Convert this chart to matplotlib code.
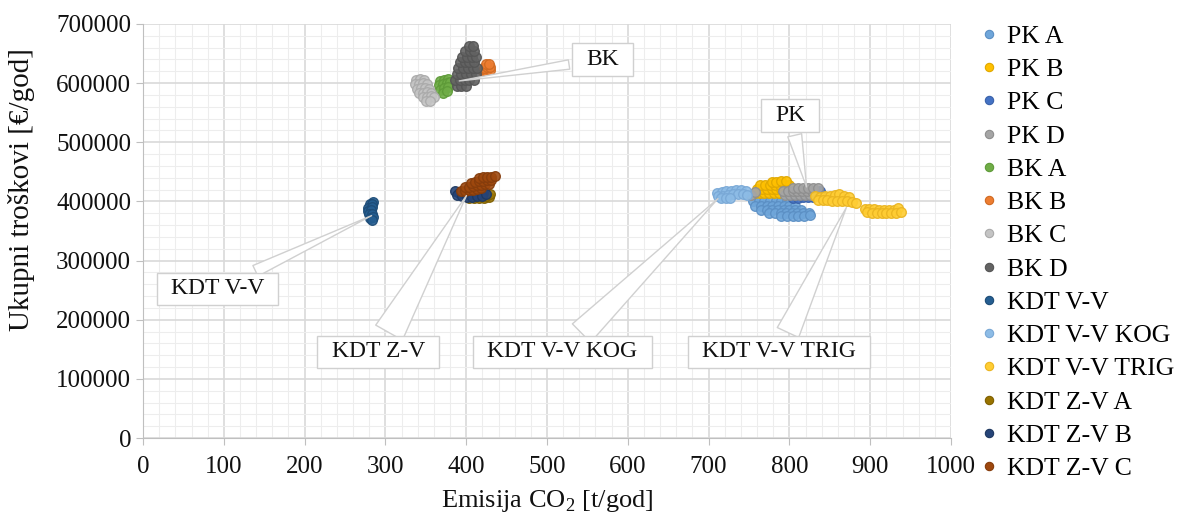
import matplotlib.pyplot as plt
from matplotlib.lines import Line2D
from matplotlib.path import Path
from matplotlib.ticker import MultipleLocator, StrMethodFormatter

plt.rcParams["font.family"] = ["Liberation Serif", "DejaVu Serif"]
plt.rcParams["mathtext.fontset"] = "custom"
plt.rcParams["mathtext.rm"] = "Liberation Serif"

# --- data (emission t/god, cost EUR/god) ---
pk_a_x = [755, 762, 769, 776, 783, 790, 797,
          758, 765, 772, 779, 786, 793, 800, 807,
          765, 772, 779, 786, 793, 800, 807, 814,
          775, 782, 789, 796, 803, 810, 817, 824,
          790, 797, 804, 811, 818, 826]
pk_a_y = [400000, 400000, 400000, 400000, 400000, 400000, 400000,
          393000, 393000, 393000, 393000, 393000, 393000, 393000, 393000,
          386000, 386000, 386000, 386000, 386000, 386000, 386000, 386000,
          380000, 380000, 380000, 380000, 380000, 380000, 380000, 380000,
          375000, 375000, 375000, 375000, 376000, 377000]

pk_b_x = [757, 763, 769, 775, 781, 787,
          760, 766, 772, 778, 784, 790, 796,
          764, 770, 776, 782, 788, 794, 800,
          778, 784, 790, 796]
pk_b_y = [415000, 415000, 415000, 415000, 415000, 415000,
          421000, 421000, 421000, 421000, 421000, 421000, 421000,
          427000, 427000, 427000, 427000, 427000, 427000, 427000,
          433000, 433000, 434000, 435000]

pk_c_x = [805, 811, 817, 823, 829, 835, 808, 814, 820, 826, 832, 838]
pk_c_y = [406000, 406000, 407000, 407000, 408000, 409000,
          413000, 414000, 415000, 416000, 417000, 418000]

pk_d_x = [752, 758, 795, 801, 807, 813, 819, 825,
          792, 798, 804, 810, 816, 822, 828,
          805, 811, 817, 823, 829, 835]
pk_d_y = [411000, 416000, 411000, 411000, 411000, 411000, 411000, 411000,
          417000, 417000, 417000, 417000, 417000, 417000, 417000,
          423000, 423000, 423000, 423000, 423000, 423000]

bk_a_x = [368, 373, 378, 366, 371, 376, 380, 368, 373, 378, 371, 376]
bk_a_y = [603000, 605000, 607000, 596000, 598000, 600000, 602000,
          589000, 591000, 593000, 584000, 586000]

bk_b_x = [421, 425, 429, 422, 426, 430, 424, 428]
bk_b_y = [620000, 621000, 622000, 626000, 627000, 628000, 632000, 633000]

bk_c_x = [338, 343, 348, 336, 341, 346, 351, 339, 344, 349, 354,
          342, 347, 352, 357, 346, 351, 356, 360, 350, 355]
bk_c_y = [606000, 607000, 605000, 598000, 599000, 600000, 598000,
          590000, 591000, 592000, 590000, 583000, 584000, 585000, 583000,
          576000, 577000, 578000, 576000, 569000, 570000]

bk_d_x = [388, 394, 400,
          386, 392, 398, 404, 410,
          388, 394, 400, 406, 412,
          390, 396, 402, 408, 413,
          392, 398, 404, 410,
          395, 401, 407, 412,
          399, 405, 410,
          404, 409]
bk_d_y = [595000, 595000, 595000,
          605000, 605000, 605000, 605000, 605000,
          615000, 615000, 615000, 615000, 615000,
          625000, 625000, 625000, 625000, 625000,
          635000, 635000, 635000, 635000,
          645000, 645000, 645000, 645000,
          655000, 655000, 655000,
          663000, 663000]

kdt_vv_x = [285, 281, 284, 279, 283, 278, 282, 280, 284, 281, 285, 283]
kdt_vv_y = [399000, 395000, 396000, 389000, 390000, 384000,
            385000, 378000, 379000, 372000, 373000, 368000]

kdt_kog_x = [710, 716, 722, 728, 734, 740, 746,
             712, 718, 724, 730, 736, 742, 748,
             715, 721, 727]
kdt_kog_y = [415000, 416000, 417000, 418000, 419000, 419000, 418000,
             409000, 410000, 411000, 412000, 412000, 412000, 411000,
             405000, 406000, 406000]

kdt_trig_x = [832, 838, 844, 850, 856, 862, 868, 874,
              835, 841, 847, 853, 859, 865, 871, 877, 883,
              893, 899, 905, 911, 917, 923, 929, 935,
              896, 902, 908, 914, 920, 926, 932, 938]
kdt_trig_y = [409000, 408000, 409000, 410000, 411000, 412000, 410000, 408000,
              403000, 402000, 402000, 401000, 401000, 400000, 400000, 399000, 398000,
              388000, 387000, 387000, 386000, 386000, 385000, 386000, 389000,
              382000, 381000, 381000, 381000, 380000, 380000, 380000, 382000]

kdt_zva_x = [404, 410, 416, 422, 428, 407, 413, 419, 425, 430]
kdt_zva_y = [406000, 405000, 405000, 406000, 408000,
             410000, 409000, 409000, 410000, 412000]

kdt_zvb_x = [386, 391, 397, 403, 409, 415, 421, 389, 395, 401, 407, 413, 419, 425]
kdt_zvb_y = [418000, 415000, 413000, 412000, 412000, 413000, 414000,
             411000, 409000, 408000, 408000, 409000, 410000, 412000]

kdt_zvc_x = [393, 398, 403, 408, 413, 418, 398, 403, 408, 413, 418, 423, 428,
             406, 411, 416, 421, 426, 431, 416, 421, 426, 431, 436]
kdt_zvc_y = [417000, 418000, 419000, 420000, 421000, 422000,
             424000, 425000, 426000, 427000, 428000, 429000, 430000,
             432000, 433000, 434000, 435000, 436000, 437000,
             440000, 441000, 441000, 442000, 443000]

series_names = ["PK A", "PK B", "PK C", "PK D", "BK A", "BK B", "BK C", "BK D",
                "KDT V-V", "KDT V-V KOG", "KDT V-V TRIG",
                "KDT Z-V A", "KDT Z-V B", "KDT Z-V C"]
series_x = [pk_a_x, pk_b_x, pk_c_x, pk_d_x, bk_a_x, bk_b_x, bk_c_x, bk_d_x,
            kdt_vv_x, kdt_kog_x, kdt_trig_x, kdt_zva_x, kdt_zvb_x, kdt_zvc_x]
series_y = [pk_a_y, pk_b_y, pk_c_y, pk_d_y, bk_a_y, bk_b_y, bk_c_y, bk_d_y,
            kdt_vv_y, kdt_kog_y, kdt_trig_y, kdt_zva_y, kdt_zvb_y, kdt_zvc_y]
fills = ["#6FA6DA", "#FFC000", "#4472C4", "#A5A5A5", "#70AD47", "#ED7D31",
         "#C4C4C4", "#636363", "#255E91", "#8DBCE6", "#FFCD33", "#997300",
         "#264478", "#9E480E"]
edges = ["#5B8FC4", "#E0A800", "#3A62AA", "#8E8E8E", "#5E9A38", "#D06A22",
         "#AAAAAA", "#555555", "#1D4C77", "#79A8D6", "#EAB420", "#7F5F00",
         "#1E3860", "#853C0B"]

# callouts: label, tip (data), box centre (data), wedge width
callouts = [
    ("BK", (388, 603000), (569, 640000), 0.4),
    ("PK", (822, 420000), (801, 545000), 0.6),
    ("KDT V-V", (286, 378000), (92, 252000), 0.5),
    ("KDT Z-V", (402, 414000), (291, 145500), 1.3),
    ("KDT V-V KOG", (714, 408000), (519, 145500), 1.1),
    ("KDT V-V TRIG", (872, 394000), (787, 145500), 1.0),
]


def callout_box(x0, y0, width, height, mutation_size):
    padx = 0.6 * mutation_size
    pady = 0.25 * mutation_size
    x0, y0 = x0 - padx, y0 - pady
    x1, y1 = x0 + width + 2 * padx, y0 + height + 2 * pady
    return Path([(x0, y0), (x1, y0), (x1, y1), (x0, y1), (x0, y0)], closed=True)


fig = plt.figure(figsize=(11.88, 5.18), dpi=100)
ax = fig.add_axes([0.1204, 0.1544, 0.6801, 0.7993])

for name, xs, ys, fc, ec in zip(series_names, series_x, series_y, fills, edges):
    ax.scatter(xs, ys, s=48, c=fc, edgecolors=ec, linewidths=1.0, alpha=0.9,
               label=name, zorder=2)

for text, tip, box, tw in callouts:
    ax.annotate(text, xy=tip, xytext=box, textcoords="data",
                ha="center", va="center", fontsize=17, color="#111111",
                bbox=dict(boxstyle=callout_box, fc="white", ec="#D0D0D0", lw=1),
                arrowprops=dict(arrowstyle=f"wedge,tail_width={tw}",
                                fc="white", ec="#D0D0D0", lw=1),
                zorder=5)

ax.set_xlim(0, 1000)
ax.set_ylim(0, 700000)
ax.xaxis.set_major_locator(MultipleLocator(100))
ax.xaxis.set_minor_locator(MultipleLocator(20))
ax.yaxis.set_major_locator(MultipleLocator(100000))
ax.yaxis.set_minor_locator(MultipleLocator(20000))
ax.yaxis.set_major_formatter(StrMethodFormatter("{x:.0f}"))
ax.grid(which="major", color="#D9D9D9", lw=1.2, zorder=0)
ax.grid(which="minor", color="#EDEDED", lw=0.8, zorder=0)
ax.set_axisbelow(True)
for side in ["top", "right"]:
    ax.spines[side].set_visible(False)
for side in ["left", "bottom"]:
    ax.spines[side].set_color("#BFBFBF")
ax.tick_params(which="major", length=5, color="#BFBFBF", labelsize=18,
               labelcolor="#111111")
ax.tick_params(axis="x", which="major", pad=8)
ax.tick_params(which="minor", length=0)

ax.set_xlabel("Emisija CO$_2$ [t/god]", fontsize=19, color="#111111")
ax.set_ylabel("Ukupni troškovi [€/god]", fontsize=21, color="#111111")
ax.xaxis.set_label_coords(0.5, -0.12)
ax.yaxis.set_label_coords(-0.134, 0.6)

handles = [Line2D([], [], ls="none", marker="o", ms=6, mfc=fc, mec=ec, mew=0.8)
           for fc, ec in zip(fills, edges)]
fig.legend(handles, series_names, loc="upper left",
           bbox_to_anchor=(0.826, 0.952), frameon=False, fontsize=18.5,
           handlelength=0.6, handletextpad=0.4, labelspacing=0.4,
           borderaxespad=0, borderpad=0)

fig.savefig("out.png", dpi=100)
